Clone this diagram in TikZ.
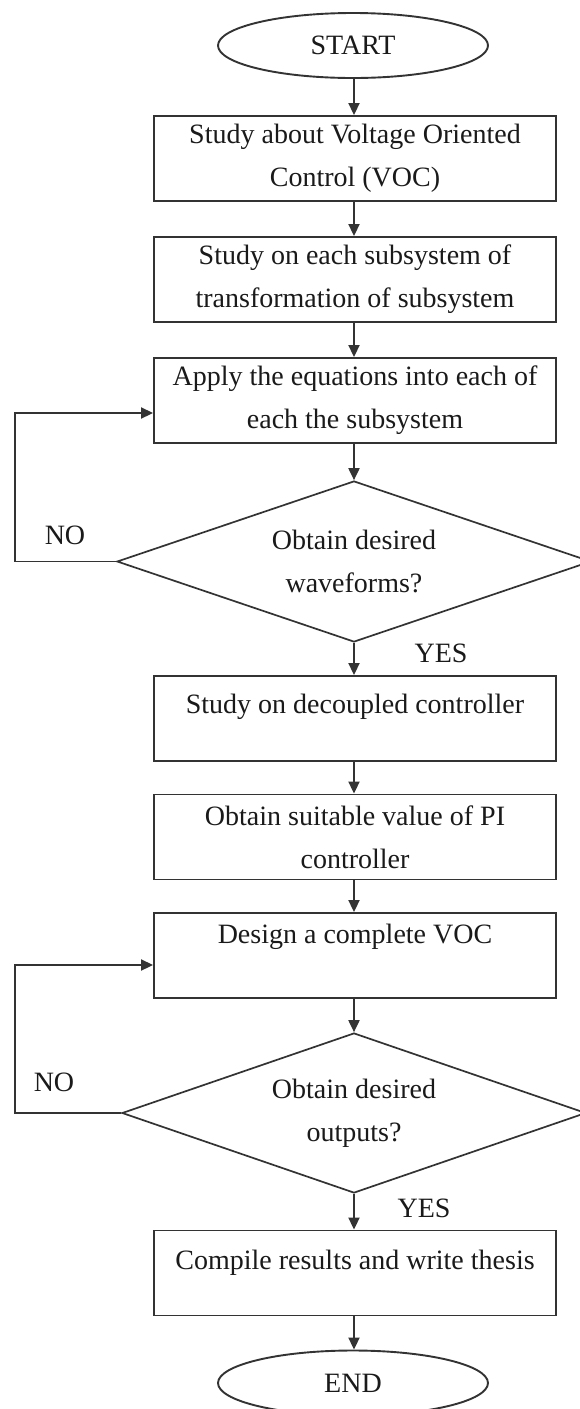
\documentclass[tikz,border=0pt]{standalone}
\usepackage{fontspec}
\setmainfont{Liberation Serif}
\usetikzlibrary{shapes.geometric,arrows.meta}
\definecolor{ln}{HTML}{333333}
\definecolor{tx}{HTML}{1A1A1A}
\begin{document}
\begin{tikzpicture}[x=1pt,y=-1pt,
  every node/.style={font=\fontsize{28}{43}\selectfont, text=tx},
  box/.style={draw=ln, line width=1.9pt, rectangle, minimum width=402pt, minimum height=85pt, inner sep=0pt, align=center},
  term/.style={draw=ln, line width=1.9pt, ellipse, minimum width=270pt, minimum height=65pt, inner sep=0pt},
  dec/.style={draw=ln, line width=1.7pt, diamond, aspect=2.94, inner sep=0pt, align=center},
  arr/.style={draw=ln, line width=1.9pt, -{Triangle[length=12pt,width=11pt]}},
  lbl/.style={inner sep=0pt}
]
\useasboundingbox (0,0) rectangle (580,1409);
\clip (0,0) rectangle (580,1409);
\fill[white] (0,0) rectangle (580,1409);

\node[term] (start) at (353,45.5) {START};
\node[box] (b1) at (355,158.5) {Study about Voltage Oriented\\Control (VOC)};
\node[box] (b2) at (355,279.5) {Study on each subsystem of\\transformation of subsystem};
\node[box] (b3) at (355,400.5) {Apply the equations into each of\\each the subsystem};
\node[dec, minimum width=474pt, minimum height=161pt] (d1) at (354,561.5) {Obtain desired\\waveforms?};
\node[box] (b4) at (355,718.5) {Study on decoupled controller\\[-14pt]\mbox{}};
\node[box] (b5) at (355,837) {Obtain suitable value of PI\\controller};
\node[box] (b6) at (355,955.5) {Design a complete VOC\\\mbox{}};
\node[dec, minimum width=464pt, minimum height=160pt] (d2) at (354,1113) {Obtain desired\\outputs?};
\node[box] (b7) at (355,1273) {Compile results and write thesis\\[-16pt]\mbox{}};
\node[term] (end) at (353,1383) {END};

\node[lbl] (no1) at (65,535) {NO};
\node[lbl] (yes1) at (441,653) {YES};
\node[lbl] (no2) at (54,1082) {NO};
\node[lbl] (yes2) at (424,1208) {YES};

\draw[arr] (start.south -| d1.north) -- (d1.north |- b1.north);
\draw[arr] (b1.south -| d1.north) -- (d1.north |- b2.north);
\draw[arr] (b2.south -| d1.north) -- (d1.north |- b3.north);
\draw[arr] (b3.south -| d1.north) -- (d1.north);
\draw[arr] (d1.south) -- (d1.south |- b4.north);
\draw[arr] (b4.south -| d1.north) -- (d1.north |- b5.north);
\draw[arr] (b5.south -| d1.north) -- (d1.north |- b6.north);
\draw[arr] (b6.south -| d2.north) -- (d2.north);
\draw[arr] (d2.south) -- (d2.south |- b7.north);
\draw[arr] (b7.south -| d2.north) -- (d2.north |- end.north);

\coordinate (c1) at (15,413);
\draw[arr] (d1.west) -| (c1) -- (c1 -| b3.west);
\coordinate (c2) at (15,965);
\draw[arr] (d2.west) -| (c2) -- (c2 -| b6.west);
\end{tikzpicture}
\end{document}
